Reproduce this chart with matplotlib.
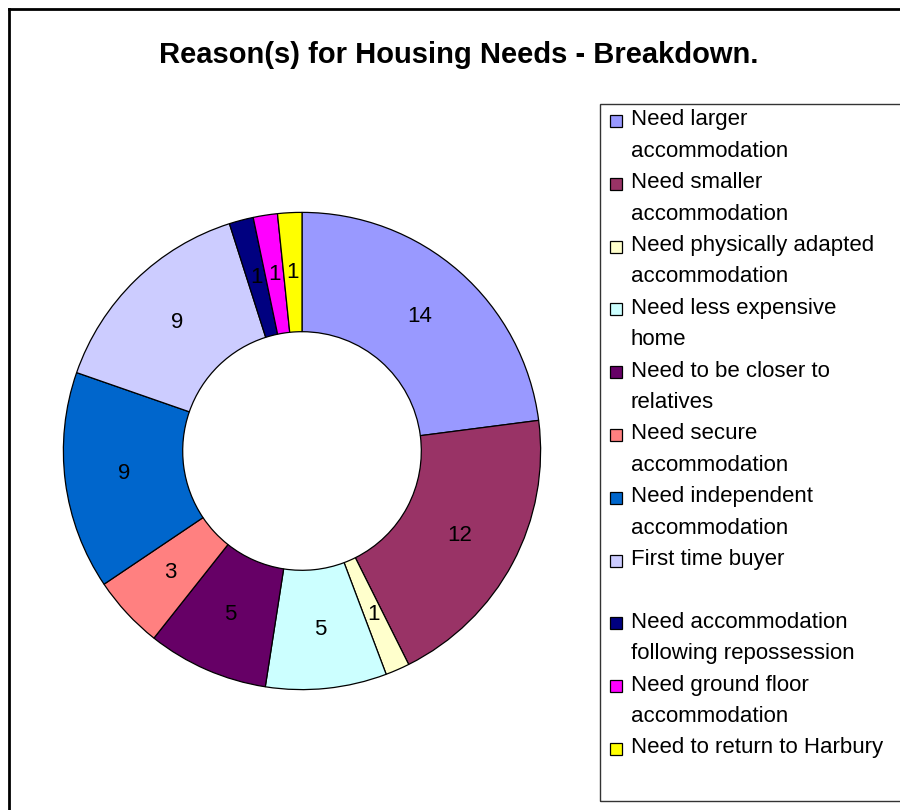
import matplotlib.pyplot as plt
from matplotlib.patches import Rectangle
from matplotlib.lines import Line2D

plt.rcParams['font.family'] = ['Liberation Sans', 'DejaVu Sans']

# data
labels = [
    "Need larger\naccommodation",
    "Need smaller\naccommodation",
    "Need physically adapted\naccommodation",
    "Need less expensive\nhome",
    "Need to be closer to\nrelatives",
    "Need secure\naccommodation",
    "Need independent\naccommodation",
    "First time buyer\n",
    "Need accommodation\nfollowing repossession",
    "Need ground floor\naccommodation",
    "Need to return to Harbury",
]
values = [14, 12, 1, 5, 5, 3, 9, 9, 1, 1, 1]
colors = ["#9999FF", "#993366", "#FFFFCC", "#CCFFFF", "#660066", "#FF8080",
          "#0066CC", "#CCCCFF", "#000080", "#FF00FF", "#FFFF00"]

W, H = 900, 810
fig = plt.figure(figsize=(9, 8.1), dpi=100)

# donut
cx, cy, R = 302, 451, 241
ax = fig.add_axes([(cx - R) / W, (H - cy - R) / H, 2 * R / W, 2 * R / H])
wedges, texts = ax.pie(
    values, colors=colors, startangle=90, counterclock=False,
    labels=[str(v) for v in values], labeldistance=0.75,
    wedgeprops=dict(width=0.5, edgecolor="black", linewidth=0.9),
    textprops=dict(fontsize=16, ha="center", va="center"),
)
ax.set_xlim(-1.01, 1.01)
ax.set_ylim(-1.01, 1.01)
ax.set_aspect("equal")
ax.axis("off")

# title
fig.text(459 / W, 1 - 55 / H, "Reason(s) for Housing Needs - Breakdown.",
         ha="center", va="center", fontsize=21, fontweight="bold")

# legend box
fig.add_artist(Rectangle((600 / W, 1 - 801 / H), 400 / W, 697 / H,
                         transform=fig.transFigure, fill=False,
                         edgecolor="#333333", linewidth=1.0))
line_y0, line_dy = 120, 31.4
k = 0
for lab, col in zip(labels, colors):
    y = line_y0 + k * line_dy
    fig.add_artist(Rectangle((610 / W, 1 - (y + 7) / H), 12 / W, 12 / H,
                             transform=fig.transFigure, facecolor=col,
                             edgecolor="black", linewidth=0.9))
    for j, part in enumerate(lab.split("\n")):
        fig.text(631 / W, 1 - (y + j * line_dy) / H, part,
                 ha="left", va="center", fontsize=16)
    k += len(lab.split("\n"))

# outer frame (top and left edges)
fig.add_artist(Line2D([9 / W, 9 / W], [0, 1 - 9 / H], transform=fig.transFigure,
                      color="black", linewidth=2))
fig.add_artist(Line2D([9 / W, 1], [1 - 9 / H, 1 - 9 / H], transform=fig.transFigure,
                      color="black", linewidth=2))

fig.savefig("out.png", dpi=100)
